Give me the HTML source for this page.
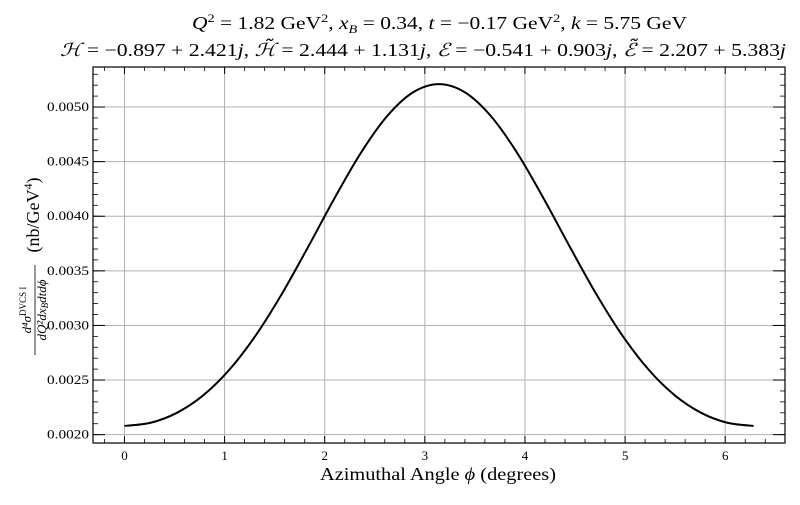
<!DOCTYPE html>
<html><head><meta charset="utf-8"><style>
body{margin:0;background:#fff;}
svg text{font-family:"Liberation Serif",serif;fill:#000;}
</style></head><body>
<svg id="chart" width="800" height="500" xmlns="http://www.w3.org/2000/svg">
<g>
<text x="192" y="29" font-size="18" textLength="495" lengthAdjust="spacingAndGlyphs"><tspan font-style="italic">Q</tspan><tspan font-size="12" dy="-7">2</tspan><tspan dy="7"> = 1.82 GeV</tspan><tspan font-size="12" dy="-7">2</tspan><tspan dy="7">, </tspan><tspan font-style="italic">x</tspan><tspan font-size="12" font-style="italic" dy="4">B</tspan><tspan dy="-4"> = 0.34, </tspan><tspan font-style="italic">t</tspan> = −0.17 GeV<tspan font-size="12" dy="-7">2</tspan><tspan dy="7">, </tspan><tspan font-style="italic">k</tspan> = 5.75 GeV</text>
<text x="60" y="56" font-size="18" textLength="726" lengthAdjust="spacingAndGlyphs"><tspan font-style="italic">ℋ</tspan> = −0.897 + 2.421<tspan font-style="italic">j</tspan>, <tspan font-style="italic">ℋ̃</tspan> = 2.444 + 1.131<tspan font-style="italic">j</tspan>, <tspan font-style="italic">ℰ</tspan> = −0.541 + 0.903<tspan font-style="italic">j</tspan>, <tspan font-style="italic">ℰ̃</tspan> = 2.207 + 5.383<tspan font-style="italic">j</tspan></text>
</g>
<g id="grid"></g>
<g id="ticks"></g>
<path id="curve" fill="none" stroke="#000" stroke-width="2"/>
<rect x="93" y="67" width="692" height="376" fill="none" stroke="#000" stroke-width="1.2"/>
<text x="320" y="480" font-size="18" textLength="236" lengthAdjust="spacingAndGlyphs">Azimuthal Angle <tspan font-style="italic">ϕ</tspan> (degrees)</text>
<g transform="translate(36,255) rotate(-90)">
<text x="-55" y="-5" text-anchor="middle" font-size="13" font-style="italic">d⁴σ<tspan font-style="normal" font-size="9" dy="-5">DVCS I</tspan></text>
<line x1="-100" y1="-1" x2="-10" y2="-1" stroke="#000" stroke-width="0.8"/>
<text x="-55" y="10" text-anchor="middle" font-size="13" font-style="italic">dQ²dx<tspan font-size="9" dy="2">B</tspan><tspan dy="-2">dtdϕ</tspan></text>
<text x="40" y="3" text-anchor="middle" font-size="18">(nb/GeV<tspan font-size="12" dy="-7">4</tspan><tspan dy="7">)</tspan></text>
</g>
</svg>
<script>
const phiValues=[0,0.2618,0.5236,0.7854,1.0472,1.3090,1.5708,1.8326,2.0944,2.3562,2.6180,2.8798,3.1416,3.4034,3.6652,3.9270,4.1888,4.4506,4.7124,4.9742,5.2360,5.4978,5.7596,6.0214,6.2832];
const sigmaValues=[0.002080,0.002109,0.002200,0.002359,0.002594,0.002906,0.003287,0.003716,0.004159,0.004573,0.004911,0.005133,0.005210,0.005133,0.004911,0.004573,0.004159,0.003716,0.003287,0.002906,0.002594,0.002359,0.002200,0.002109,0.002080];
const xTicks=[0,1,2,3,4,5,6];
const yTicks=[0.0020,0.0025,0.0030,0.0035,0.0040,0.0045,0.0050];
const yTickLabels=["0.0020","0.0025","0.0030","0.0035","0.0040","0.0045","0.0050"];

const L=93,R=785,T=67,B=443;
const xmin=-0.3142,xmax=6.5973,ymin=0.0019235,ymax=0.0053665;
const sx=v=>L+(v-xmin)/(xmax-xmin)*(R-L);
const sy=v=>B-(v-ymin)/(ymax-ymin)*(B-T);
const NS="http://www.w3.org/2000/svg";
const grid=document.getElementById('grid'),ticks=document.getElementById('ticks');
function ln(p,x1,y1,x2,y2,c,w){const e=document.createElementNS(NS,'line');e.setAttribute('x1',x1);e.setAttribute('y1',y1);e.setAttribute('x2',x2);e.setAttribute('y2',y2);e.setAttribute('stroke',c);e.setAttribute('stroke-width',w);p.appendChild(e);return e;}
function tx(x,y,s,anchor){const e=document.createElementNS(NS,'text');e.setAttribute('x',x);e.setAttribute('y',y);e.setAttribute('font-size','13');e.setAttribute('text-anchor',anchor);e.textContent=s;ticks.appendChild(e);return e;}
xTicks.forEach(v=>{const x=sx(v);
 const g=ln(grid,x,T,x,B,'#b0b0b0',1);
 
 
 ln(ticks,x,B,x,B-7,'#000',1);ln(ticks,x,T,x,T+7,'#000',1);
 const t=tx(x,460,String(v),'middle');
 
 
});
for(let v=-0.2;v<6.6;v+=0.2){if(Math.abs(v-Math.round(v))<0.01)continue;const x=sx(v);ln(ticks,x,B,x,B-4,'#000',0.8);ln(ticks,x,T,x,T+4,'#000',0.8);}
yTicks.forEach((v,i)=>{const y=sy(v);
 const g=ln(grid,L,y,R,y,'#b0b0b0',1);
 
 
 ln(ticks,L,y,L+12,y,'#000',1);ln(ticks,R,y,R-12,y,'#000',1);
 const t=tx(L-4,y+4,yTickLabels[i],'end');
 t.setAttribute('textLength','42');
 t.setAttribute('lengthAdjust','spacingAndGlyphs');
 
 
});
for(let v=0.0019;v<0.00537;v+=0.0001){const y=sy(v);if(y<T||y>B)continue;ln(ticks,L,y,L+5,y,'#000',0.8);ln(ticks,R,y,R-5,y,'#000',0.8);}
const pts=phiValues.map((p,i)=>[sx(p),sy(sigmaValues[i])]);
let d='M'+pts[0][0]+','+pts[0][1];
for(let i=0;i<pts.length-1;i++){const p0=pts[Math.max(0,i-1)],p1=pts[i],p2=pts[i+1],p3=pts[Math.min(pts.length-1,i+2)];
 d+=' C'+(p1[0]+(p2[0]-p0[0])/6)+','+(p1[1]+(p2[1]-p0[1])/6)+' '+(p2[0]-(p3[0]-p1[0])/6)+','+(p2[1]-(p3[1]-p1[1])/6)+' '+p2[0]+','+p2[1];}
document.getElementById('curve').setAttribute('d',d);
</script>
</body></html>
